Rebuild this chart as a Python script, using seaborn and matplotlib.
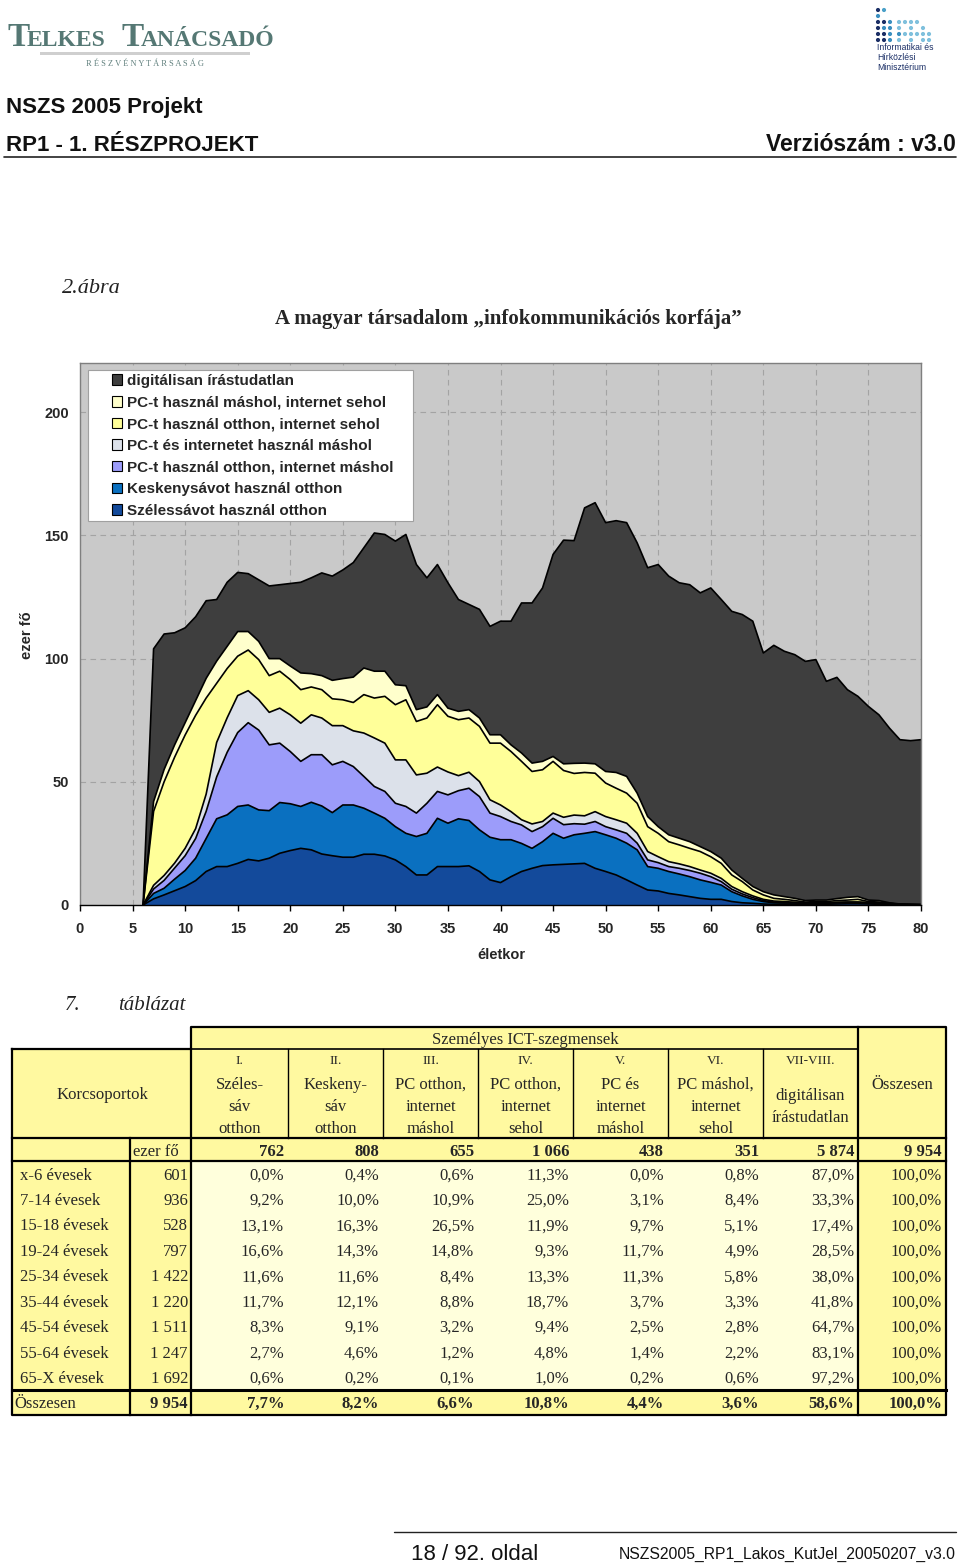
import numpy as np
import pandas as pd
import matplotlib
matplotlib.use("Agg")
import matplotlib.pyplot as plt
from matplotlib.patches import Rectangle, Patch
import seaborn as sns

# ---------------- chart data (thousand persons by age) ----------------
ages = list(range(6, 81))
szeles = [0, 2.5, 4.1, 5.8, 7.5, 9.9, 13.6, 15.6, 15.6, 16.9,
          18.5, 17.9, 19.0, 21.0, 22.1, 23.0, 22.4, 20.7, 20.0, 19.4,
          19.4, 20.6, 20.6, 19.9, 18.3, 15.6, 12.2, 12.2, 15.6, 15.6,
          15.6, 15.9, 13.6, 10.2, 9.1, 11.5, 13.6, 14.9, 16.0, 16.3,
          16.5, 16.7, 16.9, 14.9, 13.6, 12.2, 10.2, 8.1, 6.1, 5.7,
          4.7, 4.1, 3.4, 2.7, 2.3, 2.3, 1.4, 0.9, 0.7, 0.4,
          0.3, 0.3, 0.3, 0.3, 0.3, 0.3, 0.4, 0.5, 0.5, 0.4,
          0.3, 0.2, 0.1, 0.1, 0.1]
keskeny = [0, 2.2, 2.7, 4.7, 6.5, 9.1, 13.4, 19.4, 21.0, 23.1,
           22.1, 20.7, 19.3, 20.6, 19.0, 17.0, 19.3, 19.5, 17.5, 21.2,
           21.2, 18.7, 16.7, 15.3, 13.5, 13.5, 15.6, 16.9, 19.6, 17.6,
           19.4, 18.4, 16.9, 17.3, 17.4, 15.0, 11.4, 8.1, 9.7, 12.8,
           10.6, 11.8, 12.2, 14.9, 14.9, 14.9, 14.9, 14.3, 9.5, 9.2,
           8.9, 8.5, 8.1, 7.5, 6.9, 5.8, 4.0, 2.8, 1.6, 1.0,
           0.6, 0.5, 0.5, 0.4, 0.4, 0.4, 0.5, 0.5, 0.5, 0.4,
           0.3, 0.2, 0.1, 0.0, 0.0]
pc_otthon_net_mashol = [0, 1.8, 3.2, 4.5, 6.0, 8.0, 11.0, 17.0, 25.4, 30.0,
                        33.4, 32.4, 26.7, 24.1, 21.2, 18.3, 19.3, 20.8, 19.4, 17.7,
                        15.6, 12.9, 10.8, 10.9, 9.5, 10.9, 9.5, 12.2, 10.9, 11.5,
                        11.4, 13.1, 13.5, 9.8, 9.4, 7.4, 7.5, 6.8, 6.1, 6.1,
                        5.5, 4.5, 3.7, 4.1, 3.3, 3.4, 4.0, 2.7, 2.7, 2.3,
                        2.0, 2.3, 2.5, 2.7, 2.3, 1.4, 1.0, 0.8, 0.7, 0.4,
                        0.3, 0.2, 0.2, 0.1, 0.1, 0.1, 0.1, 0.1, 0.1, 0.1,
                        0.1, 0.1, 0.0, 0.0, 0.0]
pc_net_mashol = [0, 1.5, 2.0, 2.0, 3.0, 4.0, 7.0, 14.0, 14.0, 15.0,
                 13.0, 12.3, 13.2, 14.2, 14.9, 15.5, 16.2, 14.9, 15.9, 14.5,
                 14.5, 17.6, 19.7, 19.6, 17.6, 18.9, 15.5, 12.2, 9.9, 9.3,
                 6.1, 6.5, 6.1, 5.4, 4.7, 4.0, 2.1, 3.1, 2.1, 2.1,
                 3.0, 3.5, 3.4, 4.0, 4.1, 4.1, 4.1, 4.0, 3.4, 2.4,
                 2.0, 1.8, 1.6, 1.3, 1.4, 1.3, 1.1, 0.9, 0.7, 0.5,
                 0.4, 0.4, 0.1, 0.1, 0.1, 0.1, 0.1, 0.1, 0.1, 0.1,
                 0.1, 0.1, 0.1, 0.1, 0.0]
pc_otthon_net_sehol = [0, 30.0, 38.0, 43.0, 46.0, 46.0, 39.0, 24.0, 20.0, 16.0,
                       16.5, 16.3, 14.9, 15.0, 14.3, 13.6, 11.3, 11.5, 10.9, 10.5,
                       11.5, 15.6, 16.2, 19.0, 22.4, 24.4, 21.7, 22.4, 25.3, 22.6,
                       22.7, 22.0, 22.4, 23.0, 25.1, 24.4, 23.7, 21.3, 21.0, 21.0,
                       19.0, 16.9, 17.6, 15.6, 13.6, 12.8, 12.2, 12.2, 10.1, 9.5,
                       8.1, 7.7, 7.4, 7.5, 6.7, 6.1, 4.7, 4.1, 2.4, 1.8,
                       1.1, 0.9, 0.7, 0.3, 0.5, 0.5, 0.7, 0.8, 1.1, 0.4,
                       0.4, 0.1, 0.0, 0.0, 0.0]
pc_mashol_net_sehol = [0, 4.0, 5.0, 5.0, 5.0, 6.0, 8.0, 9.0, 9.0, 10.0,
                       7.5, 7.4, 6.9, 5.1, 5.5, 6.8, 5.4, 5.7, 7.5, 8.6,
                       10.3, 10.8, 10.9, 10.2, 8.1, 5.7, 4.8, 4.5, 4.1, 3.3,
                       3.4, 3.4, 3.4, 3.4, 3.4, 2.7, 3.4, 3.4, 3.4, 2.0,
                       2.7, 4.1, 3.8, 3.8, 4.7, 6.4, 6.8, 4.1, 4.1, 2.7,
                       2.8, 2.7, 2.7, 2.0, 2.1, 2.1, 2.0, 1.3, 1.4, 1.3,
                       1.4, 1.1, 0.9, 0.6, 0.6, 0.6, 0.8, 1.1, 1.1, 0.6,
                       0.6, 0.2, 0.1, 0.1, 0.1]
dig_irastudatlan = [0, 62.0, 55.0, 45.5, 38.5, 34.0, 31.5, 25.0, 26.0, 24.0,
                    23.5, 25.0, 29.5, 30.0, 33.5, 36.8, 38.9, 41.7, 42.3, 44.1,
                    46.5, 48.8, 56.1, 55.5, 58.3, 61.4, 58.9, 52.4, 52.8, 50.9,
                    45.4, 42.7, 44.1, 44.0, 46.1, 50.2, 60.9, 65.0, 70.4, 82.0,
                    90.8, 90.4, 103.6, 106.0, 101.0, 102.2, 103.0, 101.6, 101.0, 106.4,
                    105.0, 103.7, 104.3, 103.0, 107.0, 105.0, 105.0, 107.1, 107.7, 96.9,
                    101.3, 99.6, 98.9, 97.1, 97.6, 88.8, 89.8, 84.3, 81.3, 78.6,
                    75.4, 70.9, 66.7, 66.4, 66.9]

legend_labels = ["Szélessávot használ otthon",
                 "Keskenysávot használ otthon",
                 "PC-t használ otthon, internet máshol",
                 "PC-t és internetet használ máshol",
                 "PC-t használ otthon, internet sehol",
                 "PC-t használ máshol, internet sehol",
                 "digitálisan írástudatlan"]
x_ticks = list(range(0, 81, 5))
y_ticks = [0, 50, 100, 150, 200]

# ---------------- table data ----------------
seg_roman = ["I.", "II.", "III.", "IV.", "V.", "VI.", "VII-VIII."]
seg_names = [["Széles-", "sáv", "otthon"], ["Keskeny-", "sáv", "otthon"],
             ["PC otthon,", "internet", "máshol"], ["PC otthon,", "internet", "sehol"],
             ["PC és", "internet", "máshol"], ["PC máshol,", "internet", "sehol"],
             ["digitálisan", "írástudatlan"]]
seg_totals = [762, 808, 655, 1066, 438, 351, 5874]
grand_total = 9954
age_groups = ["x-6 évesek", "7-14 évesek", "15-18 évesek", "19-24 évesek",
              "25-34 évesek", "35-44 évesek", "45-54 évesek", "55-64 évesek",
              "65-X évesek"]
group_sizes = [601, 936, 528, 797, 1422, 1220, 1511, 1247, 1692]
shares = [[0.0, 0.4, 0.6, 11.3, 0.0, 0.8, 87.0],
          [9.2, 10.0, 10.9, 25.0, 3.1, 8.4, 33.3],
          [13.1, 16.3, 26.5, 11.9, 9.7, 5.1, 17.4],
          [16.6, 14.3, 14.8, 9.3, 11.7, 4.9, 28.5],
          [11.6, 11.6, 8.4, 13.3, 11.3, 5.8, 38.0],
          [11.7, 12.1, 8.8, 18.7, 3.7, 3.3, 41.8],
          [8.3, 9.1, 3.2, 9.4, 2.5, 2.8, 64.7],
          [2.7, 4.6, 1.2, 4.8, 1.4, 2.2, 83.1],
          [0.6, 0.2, 0.1, 1.0, 0.2, 0.6, 97.2]]
total_shares = [7.7, 8.2, 6.6, 10.8, 4.4, 3.6, 58.6]


def hu_num(n):
    return f"{n:,}".replace(",", " ")


def hu_pct(p):
    return f"{p:.1f}".replace(".", ",") + "%"


# ---------------- figure ----------------
sns.set_theme(style="white")
SANS = ['Liberation Sans', 'DejaVu Sans']
SERIF = ['Liberation Serif', 'DejaVu Serif']
plt.rcParams['font.family'] = SANS

W, H = 960, 1563
fig = plt.figure(figsize=(W / 100, H / 100), dpi=100)
fig.patch.set_facecolor('white')
pg = fig.add_axes([0, 0, 1, 1])
pg.set_xlim(0, W)
pg.set_ylim(H, 0)
pg.axis('off')

# ---- page header ----
LOGO = '#557874'
pg.text(8, 46, "T", fontsize=24, family=SERIF, weight='bold', color=LOGO, va='baseline')
pg.text(27, 46, "ELKES", fontsize=17, family=SERIF, weight='bold', color=LOGO, va='baseline')
pg.text(122, 46, "T", fontsize=24, family=SERIF, weight='bold', color=LOGO, va='baseline')
pg.text(141, 46, "ANÁCSADÓ", fontsize=17, family=SERIF, weight='bold', color=LOGO, va='baseline')
pg.add_patch(Rectangle((40, 52), 210, 3, color='#cfcfcf', lw=0))
pg.text(145, 66, " ".join("RÉSZVÉNYTÁRSASÁG"), fontsize=6, family=SERIF, color='#5f7f7c',
        ha='center', va='baseline')
# ministry logo dots
dot_x = [878, 884, 878, 878, 884, 890, 899, 905, 911, 917, 878, 884, 890, 899, 911, 923,
         878, 884, 890, 899, 905, 911, 917, 923, 929, 878, 884, 890, 899, 911, 923, 929]
dot_y = [10, 10, 16, 22, 22, 22, 22, 22, 22, 22, 28, 28, 28, 28, 28, 28,
         34, 34, 34, 34, 34, 34, 34, 34, 34, 40, 40, 40, 40, 40, 40, 40]
dot_c = ['#1b2f66', '#4aa0c8', '#3a8fc0', '#1b2f66', '#1b2f66', '#3a8fc0', '#7fc0dd', '#7fc0dd',
         '#7fc0dd', '#7fc0dd', '#1b2f66', '#3a8fc0', '#3a8fc0', '#7fc0dd', '#7fc0dd', '#7fc0dd',
         '#1b2f66', '#1b2f66', '#3a8fc0', '#3a8fc0', '#7fc0dd', '#7fc0dd', '#7fc0dd', '#7fc0dd',
         '#7fc0dd', '#1b2f66', '#1b2f66', '#3a8fc0', '#7fc0dd', '#7fc0dd', '#7fc0dd', '#7fc0dd']
pg.scatter(dot_x, dot_y, s=9, c=dot_c, lw=0)
for i, t in enumerate(["Informatikai és", "Hírközlési", "Minisztérium"]):
    pg.text(877, 50 + 10 * i, t, fontsize=6.2, color='#1b2f66', va='baseline')

pg.text(6, 113, "NSZS 2005 Projekt", fontsize=16, weight='bold', va='baseline', color='#111111')
pg.text(6, 151, "RP1 - 1. RÉSZPROJEKT", fontsize=16, weight='bold', va='baseline', color='#111111')
pg.text(956, 151, "Verziószám : v3.0", fontsize=16.5, weight='bold', va='baseline', ha='right', color='#111111')
pg.plot([4, 956], [157, 157], color='#222222', lw=1.2)

pg.text(62, 293, "2.ábra", fontsize=16, family=SERIF, style='italic', va='baseline', color='#222222')
pg.text(508, 324, "A magyar társadalom \u201einfokommunikációs korfája\u201d", fontsize=15,
        family=SERIF, weight='bold', ha='center', va='baseline')

# ---- chart ----
ax = fig.add_axes([80 / W, 1 - 905 / H, 841 / W, 542 / H])
cols = ['szeles', 'keskeny', 'pc_otthon_net_mashol', 'pc_net_mashol',
        'pc_otthon_net_sehol', 'pc_mashol_net_sehol', 'dig_irastudatlan']
df = pd.DataFrame({'age': ages, 'szeles': szeles, 'keskeny': keskeny,
                   'pc_otthon_net_mashol': pc_otthon_net_mashol, 'pc_net_mashol': pc_net_mashol,
                   'pc_otthon_net_sehol': pc_otthon_net_sehol,
                   'pc_mashol_net_sehol': pc_mashol_net_sehol,
                   'dig_irastudatlan': dig_irastudatlan})
colors = ['#134A9B', '#0A70C0', '#9C9CFA', '#DCE1EA', '#FFFF99', '#FFFFCC', '#3E3E3E']
polys = ax.stackplot(df['age'], *[df[c] for c in cols], colors=colors, edgecolor='none', lw=0)

cum = df[cols].cumsum(axis=1)
long = cum.assign(age=df['age']).melt(id_vars='age', var_name='level', value_name='value')
sns.lineplot(data=long, x='age', y='value', units='level', estimator=None, color='black',
             lw=1.2, ax=ax, legend=False, sort=False)

ax.set_xlim(0, 80)
ax.set_ylim(0, 220)
ax.set_facecolor('#C9C9C9')
ax.set_xticks(x_ticks)
ax.set_yticks(y_ticks)
ax.set_xlabel('')
ax.set_ylabel('')
ax.grid(True, color='#a3a3a3', linestyle=(0, (5, 4)), lw=0.8)
ax.set_axisbelow(True)
ax.tick_params(axis='x', length=4, width=1, color='black', pad=8, labelsize=10.5, bottom=True)
ax.tick_params(axis='y', length=0, pad=8, labelsize=10.5, left=True)
for lab in ax.get_xticklabels() + ax.get_yticklabels():
    lab.set_fontweight('bold')
for sp in ax.spines.values():
    sp.set_color('#7f7f7f')
    sp.set_linewidth(1)
ax.spines['bottom'].set_color('black')

# legend box + legend
ax.add_patch(Rectangle(((88 - 80) / 841, (905 - 521) / 542), 325 / 841, 151 / 542,
                       transform=ax.transAxes, facecolor='white', edgecolor='#a0a0a0',
                       lw=0.8, zorder=5))
handles = [Patch(facecolor=c, edgecolor='black', lw=0.8) for c in colors]
leg = ax.legend(handles[::-1], legend_labels[::-1], loc='upper left',
                bbox_to_anchor=((112 - 80) / 841, (905 - 374) / 542), frameon=False,
                handlelength=0.68, handleheight=0.68, handletextpad=0.3, labelspacing=0.5,
                borderpad=0, borderaxespad=0, prop={'weight': 'bold', 'size': 11,
                                                      'family': SANS})
leg.set_zorder(6)

pg.text(27, 635, "ezer fő", rotation=90, fontsize=10.5, weight='bold', ha='center', va='center')
pg.text(501, 959, "életkor", fontsize=10.5, weight='bold', ha='center', va='baseline')

# ---- table ----
pg.text(65, 1010, "7.", fontsize=15, family=SERIF, style='italic', va='baseline', color='#222222')
pg.text(118, 1010, "táblázat", fontsize=15, family=SERIF, style='italic', va='baseline', color='#222222')

ce = [12, 130, 191, 288, 383, 478, 573, 668, 763, 858, 946]
YEL = '#FFF9A0'
PALE = '#FFFFDC'
row_top = 1161
row_h = 25.4
n_rows = len(age_groups)
body_bot = row_top + n_rows * row_h
tot_bot = 1415

# backgrounds
pg.add_patch(Rectangle((191, 1027), 946 - 191, 1049 - 1027, facecolor=YEL, lw=0))
pg.add_patch(Rectangle((12, 1049), 946 - 12, row_top - 1049, facecolor=YEL, lw=0))
pg.add_patch(Rectangle((12, row_top), 191 - 12, body_bot - row_top, facecolor=YEL, lw=0))
pg.add_patch(Rectangle((191, row_top), 858 - 191, body_bot - row_top, facecolor=PALE, lw=0))
pg.add_patch(Rectangle((858, row_top), 946 - 858, body_bot - row_top, facecolor=YEL, lw=0))
pg.add_patch(Rectangle((12, body_bot), 946 - 12, tot_bot - body_bot, facecolor=YEL, lw=0))

LK = dict(color='black', solid_capstyle='projecting')
pg.plot([12, 191, 191, 946, 946, 12, 12], [1049, 1049, 1027, 1027, tot_bot, tot_bot, 1049], lw=1.6, **LK)
pg.plot([191, 858], [1049, 1049], lw=1.2, **LK)
pg.plot([858, 858], [1027, tot_bot], lw=1.6, **LK)
pg.plot([191, 191], [1049, tot_bot], lw=1.6, **LK)
pg.plot([130, 130], [1138, tot_bot], lw=1.6, **LK)
for x in ce[3:9]:
    pg.plot([x, x], [1049, 1138], lw=1.0, **LK)
pg.plot([12, 946], [1138, 1138], lw=1.6, **LK)
pg.plot([12, 946], [row_top, row_top], lw=1.6, **LK)
pg.plot([12, 946], [body_bot, body_bot], lw=2.2, **LK)

TS = dict(family=SERIF, va='center_baseline')
pg.text(525, 1038, "Személyes ICT-szegmensek", fontsize=12, ha='center', **TS)
pg.text(102, 1093, "Korcsoportok", fontsize=12, ha='center', **TS)
pg.text(902, 1083, "Összesen", fontsize=12, ha='center', **TS)
for j in range(7):
    xc = (ce[j + 2] + ce[j + 3]) / 2
    pg.text(xc, 1060, seg_roman[j], fontsize=9.5, ha='center', **TS)
    lines = seg_names[j]
    ys = [1083, 1105, 1127] if len(lines) == 3 else [1094, 1116]
    for t, yy in zip(lines, ys):
        pg.text(xc, yy, t, fontsize=12, ha='center', **TS)

pg.text(133, 1150, "ezer fő", fontsize=12, ha='left', **TS)
for j in range(7):
    pg.text(ce[j + 3] - 4, 1150, hu_num(seg_totals[j]), fontsize=12, weight='bold', ha='right', **TS)
pg.text(ce[10] - 4, 1150, hu_num(grand_total), fontsize=12, weight='bold', ha='right', **TS)

for i in range(n_rows):
    yc = row_top + (i + 0.5) * row_h
    pg.text(20, yc, age_groups[i], fontsize=12, ha='left', **TS)
    pg.text(ce[2] - 3, yc, hu_num(group_sizes[i]), fontsize=12, ha='right', **TS)
    for j in range(7):
        pg.text(ce[j + 3] - 4, yc, hu_pct(shares[i][j]), fontsize=12, ha='right', **TS)
    pg.text(ce[10] - 4, yc, hu_pct(100.0), fontsize=12, ha='right', **TS)

yc = (body_bot + tot_bot) / 2
pg.text(14, yc, "Összesen", fontsize=12, ha='left', **TS)
pg.text(ce[2] - 3, yc, hu_num(grand_total), fontsize=12, weight='bold', ha='right', **TS)
for j in range(7):
    pg.text(ce[j + 3] - 4, yc, hu_pct(total_shares[j]), fontsize=12, weight='bold', ha='right', **TS)
pg.text(ce[10] - 4, yc, hu_pct(100.0), fontsize=12, weight='bold', ha='right', **TS)

# ---- footer ----
pg.plot([394, 956], [1532, 1532], color='#222222', lw=1.0)
pg.text(411, 1560, "18 / 92. oldal", fontsize=16, va='baseline', color='#111111')
pg.text(956, 1559, "NSZS2005_RP1_Lakos_KutJel_20050207_v3.0", fontsize=11.3, va='baseline',
        ha='right', color='#111111')

fig.savefig("out.png", dpi=100, facecolor='white')
